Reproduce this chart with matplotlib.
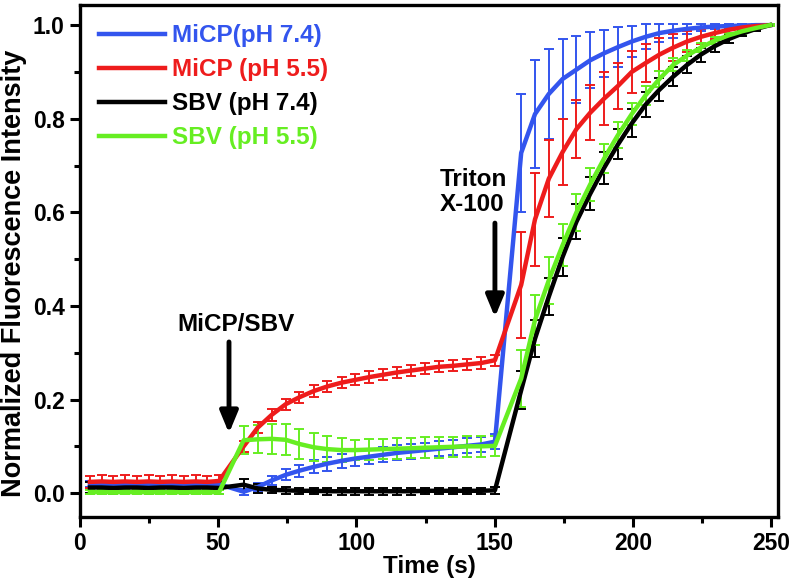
import matplotlib
matplotlib.use("Agg")
import matplotlib.pyplot as plt
from matplotlib.lines import Line2D
from matplotlib.ticker import MultipleLocator

plt.rcParams['font.family'] = ['Liberation Sans', 'DejaVu Sans']
plt.rcParams['font.weight'] = 'bold'

time = [3.6, 7.8, 12.1, 16.3, 20.6, 24.8, 29.0, 33.3, 37.5, 41.8, 46.0, 50.3,
        59.2, 64.3, 69.3, 74.4, 79.4, 84.5, 89.5, 94.6, 99.6, 104.7, 109.7,
        114.8, 119.8, 124.9, 129.9, 135.0, 140.0, 145.1, 150.1,
        159.6, 164.6, 169.6, 174.6, 179.6, 184.6, 189.6, 194.6, 199.6, 204.6,
        209.6, 214.6, 219.6, 224.6, 229.6, 234.6, 239.6, 244.6, 249.6]

micp_74 = [0.019, 0.018, 0.018, 0.019, 0.018, 0.018, 0.019, 0.018, 0.018, 0.019, 0.018, 0.019,
           0.003, 0.013, 0.027, 0.039, 0.048, 0.056, 0.063, 0.069, 0.074, 0.078, 0.082,
           0.086, 0.089, 0.092, 0.095, 0.098, 0.101, 0.104, 0.110,
           0.727, 0.810, 0.853, 0.885, 0.905, 0.925, 0.940, 0.953, 0.965, 0.975,
           0.983, 0.988, 0.992, 0.995, 0.997, 0.998, 0.999, 1.000, 1.000]
micp_74_err = [0.006] * 12 + \
              [0.006, 0.008, 0.010, 0.012, 0.013, 0.014, 0.015, 0.015, 0.016, 0.016, 0.016,
               0.016, 0.016, 0.016, 0.016, 0.016, 0.016, 0.016, 0.016] + \
              [0.126, 0.116, 0.097, 0.085, 0.072, 0.060, 0.050, 0.042, 0.034, 0.027,
               0.020, 0.015, 0.011, 0.008, 0.006, 0.004, 0.003, 0.002, 0.001]

micp_55 = [0.024, 0.025, 0.024, 0.025, 0.024, 0.025, 0.024, 0.025, 0.024, 0.025, 0.024, 0.026,
           0.100, 0.140, 0.167, 0.190, 0.205, 0.218, 0.228, 0.236, 0.242, 0.248, 0.253,
           0.258, 0.262, 0.266, 0.270, 0.272, 0.275, 0.278, 0.284,
           0.445, 0.585, 0.672, 0.729, 0.778, 0.813, 0.843, 0.870, 0.900, 0.919,
           0.937, 0.952, 0.965, 0.975, 0.983, 0.990, 0.995, 0.998, 1.000]
micp_55_err = [0.013] * 12 + [0.012] * 19 + \
              [0.113, 0.100, 0.082, 0.071, 0.062, 0.059, 0.057, 0.050, 0.045, 0.040,
               0.035, 0.028, 0.022, 0.016, 0.012, 0.008, 0.005, 0.003, 0.002]

sbv_74 = [0.012, 0.012, 0.011, 0.012, 0.012, 0.011, 0.012, 0.012, 0.011, 0.012, 0.012, 0.011,
          0.018, 0.010, 0.007, 0.006, 0.005, 0.005, 0.004, 0.004, 0.004, 0.004, 0.004,
          0.004, 0.004, 0.005, 0.005, 0.005, 0.005, 0.005, 0.006,
          0.220, 0.330, 0.420, 0.505, 0.580, 0.640, 0.695, 0.745, 0.790, 0.830,
          0.862, 0.890, 0.915, 0.937, 0.955, 0.970, 0.982, 0.992, 1.000]
sbv_74_err = [0.012] * 12 + \
             [0.012, 0.009, 0.007, 0.007, 0.007, 0.007, 0.007, 0.007, 0.007, 0.007, 0.007,
              0.007, 0.007, 0.007, 0.007, 0.007, 0.007, 0.007, 0.007] + \
             [0.040, 0.040, 0.040, 0.040, 0.038, 0.036, 0.034, 0.032, 0.030, 0.027,
              0.024, 0.021, 0.018, 0.015, 0.012, 0.009, 0.006, 0.004, 0.002]

sbv_55 = [0.002, 0.002, 0.002, 0.002, 0.002, 0.002, 0.002, 0.002, 0.002, 0.002, 0.002, 0.002,
          0.113, 0.115, 0.116, 0.114, 0.105, 0.098, 0.094, 0.092, 0.092, 0.093, 0.094,
          0.095, 0.096, 0.097, 0.098, 0.099, 0.100, 0.100, 0.101,
          0.245, 0.370, 0.455, 0.530, 0.600, 0.660, 0.715, 0.765, 0.810, 0.850,
          0.885, 0.915, 0.935, 0.952, 0.967, 0.978, 0.987, 0.994, 1.000]
sbv_55_err = [0.004] * 12 + \
             [0.030, 0.030, 0.032, 0.033, 0.033, 0.030, 0.028, 0.025, 0.022, 0.022, 0.022,
              0.022, 0.022, 0.022, 0.022, 0.022, 0.022, 0.022, 0.022] + \
             [0.060, 0.053, 0.050, 0.045, 0.040, 0.035, 0.030, 0.027, 0.024, 0.020,
              0.017, 0.014, 0.012, 0.010, 0.008, 0.006, 0.005, 0.003, 0.002]

series = [
    (micp_74, micp_74_err, '#3355ee', 'MiCP(pH 7.4)'),
    (micp_55, micp_55_err, '#ee1c1c', 'MiCP (pH 5.5)'),
    (sbv_74, sbv_74_err, '#000000', 'SBV (pH 7.4)'),
    (sbv_55, sbv_55_err, '#66ee22', 'SBV (pH 5.5)'),
]

fig = plt.figure(figsize=(7.96, 5.82), dpi=100)
ax = fig.add_axes([80 / 796, 1 - 517 / 582, 698 / 796, 512 / 582])

handles = []
for vals, err, col, lab in series:
    ax.errorbar(time, vals, yerr=err, color=col, linewidth=3.2, elinewidth=1.4,
                capsize=3.5, capthick=1.4)
    handles.append(Line2D([], [], color=col, linewidth=3.2, label=lab))

ax.set_xlim(0, 252.5)
ax.set_ylim(-0.051, 1.043)
ax.xaxis.set_major_locator(MultipleLocator(50))
ax.xaxis.set_minor_locator(MultipleLocator(25))
ax.yaxis.set_minor_locator(MultipleLocator(0.1))
ax.set_yticks([0.0, 0.2, 0.4, 0.6, 0.8, 1.0])
ax.set_yticklabels(['0.0', '0.2', '0.4', '0.6', '0.8', '1.0'])
ax.tick_params(which='major', direction='out', length=7, width=2.2, labelsize=16.5, pad=4)
ax.tick_params(which='minor', direction='out', length=4.5, width=2.2)
for s in ax.spines.values():
    s.set_linewidth(2.4)

ax.set_xlabel('Time (s)', fontsize=17.5, fontweight='bold', labelpad=0)
ax.set_ylabel('Normalized Fluorescence Intensity', fontsize=19.5, fontweight='bold')
ax.yaxis.set_label_coords(-0.076, 0.475)

arrow = dict(arrowstyle='-|>,head_length=1.3,head_width=0.54',
             color='black', lw=3.5, shrinkA=0, shrinkB=0)
ax.annotate('', xy=(53.9, 0.128), xytext=(53.9, 0.323), arrowprops=arrow)
ax.text(56.4, 0.36, 'MiCP/SBV', fontsize=17.5, fontweight='bold', ha='center', va='center')

ax.annotate('', xy=(150.1, 0.376), xytext=(150.1, 0.577), arrowprops=arrow)
ax.text(130.2, 0.643, 'Triton\nX-100', fontsize=17.5, fontweight='bold', ha='left',
        va='center', linespacing=1.1)

leg = ax.legend(handles=handles, loc='upper left', bbox_to_anchor=(0.0, 1.0), frameon=False,
                fontsize=17.5, handlelength=2.7, handletextpad=0.3, labelspacing=0.45,
                borderaxespad=0.4, borderpad=0.4)
for txt, (_, _, col, _) in zip(leg.get_texts(), series):
    txt.set_color(col)
    txt.set_fontweight('bold')

fig.savefig('out.png', dpi=100)
